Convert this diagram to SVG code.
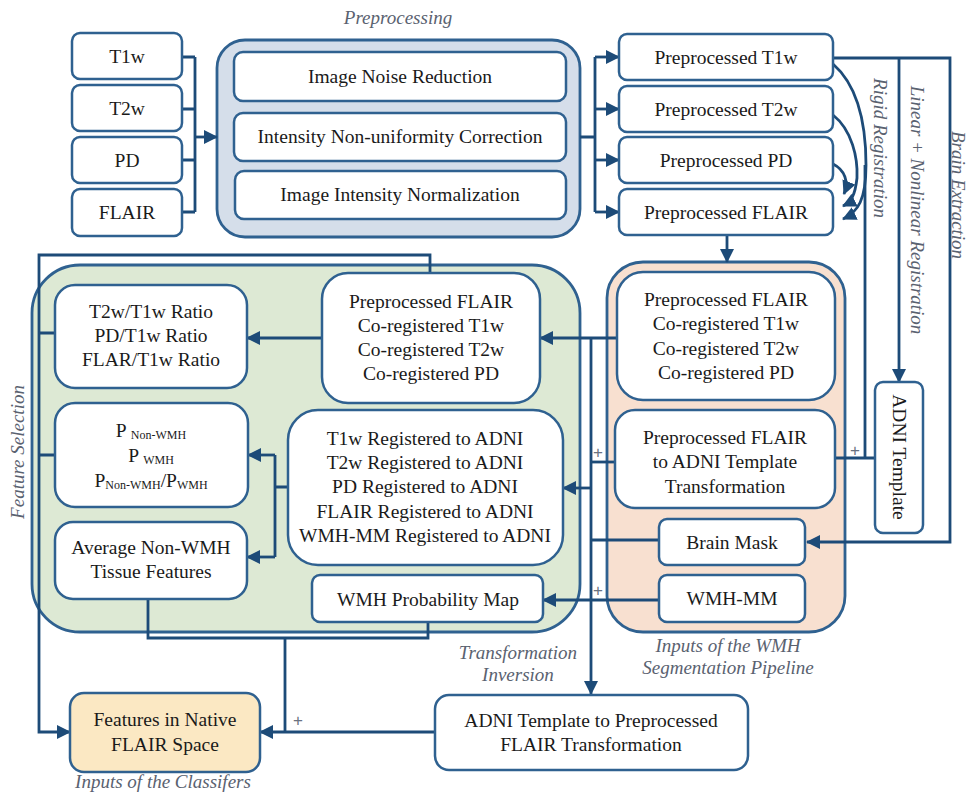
<svg xmlns="http://www.w3.org/2000/svg" width="970" height="798" viewBox="0 0 970 798">
<defs>
<marker id="arr" markerUnits="userSpaceOnUse" markerWidth="14" markerHeight="14" refX="13" refY="7" orient="auto">
<path d="M0,0 L14,7 L0,14 z" fill="#1d4b78"/>
</marker>
<style>
.box{fill:#fff;stroke:#2f6190;stroke-width:2.5}
.cont{stroke:#2f6190;stroke-width:2.8}
.ln{fill:none;stroke:#1d4b78;stroke-width:2.8}
.t{font-family:"Liberation Serif",serif;font-size:19.5px;fill:#1a1a1a;text-anchor:middle}
.lab{font-family:"Liberation Serif",serif;font-size:19px;font-style:italic;fill:#5a6270;text-anchor:middle}
.plus{font-family:"Liberation Sans",sans-serif;font-size:17px;fill:#6a7280;text-anchor:middle}
.sub{font-size:12px}
</style>
</defs>
<rect width="970" height="798" fill="#fff"/>

<!-- containers -->
<g id="preprocessing">
<rect class="cont" x="217" y="40" width="363" height="197" rx="28" fill="#d5deea"/>
<text class="lab" x="398" y="24">Preprocessing</text>
</g>
<g id="feature-area">
<rect class="cont" x="32" y="265" width="548" height="367" rx="48" fill="#dde9d4"/>
</g>
<g id="wmh-inputs">
<rect class="cont" x="607" y="262" width="238" height="370" rx="36" fill="#f8e0d0"/>
<text class="lab" x="728" y="652">Inputs of the WMH</text>
<text class="lab" x="728" y="674">Segmentation Pipeline</text>
</g>

<!-- connectors -->
<g id="connectors">
<path class="ln" d="M182,57 H195 M182,109 H195 M182,160 H195 M182,212 H195 M195,57 V212"/>
<path class="ln" d="M195,137 H217" marker-end="url(#arr)"/>
<path class="ln" d="M580,137 H595 M595,57 V212"/>
<path class="ln" d="M595,57 H619" marker-end="url(#arr)"/>
<path class="ln" d="M595,109 H619" marker-end="url(#arr)"/>
<path class="ln" d="M595,160 H619" marker-end="url(#arr)"/>
<path class="ln" d="M595,212 H619" marker-end="url(#arr)"/>
<path class="ln" d="M833,64 C856,84 866,120 866,165 C866,200 858,212 843,219" marker-end="url(#arr)"/>
<path class="ln" d="M833,115 C852,130 858,158 857,178 C855,196 851,202 843,206" marker-end="url(#arr)"/>
<path class="ln" d="M833,164 C845,170 849,182 844,194" marker-end="url(#arr)"/>
<path class="ln" d="M865,165 V458 M835,458 H875"/>
<path class="ln" d="M833,58 H950 V542 H807" marker-end="url(#arr)"/>
<path class="ln" d="M899,58 V382" marker-end="url(#arr)"/>
<path class="ln" d="M727,235 V262" marker-end="url(#arr)"/>
<path class="ln" d="M617,338 H540" marker-end="url(#arr)"/>
<path class="ln" d="M591,338 V694" marker-end="url(#arr)"/>
<path class="ln" d="M615,462 H591"/>
<path class="ln" d="M591,488 H563" marker-end="url(#arr)"/>
<path class="ln" d="M659,540 H591"/>
<path class="ln" d="M659,600 H543" marker-end="url(#arr)"/>
<path class="ln" d="M322,338 H247" marker-end="url(#arr)"/>
<path class="ln" d="M288,487 H275 M275,455 V557"/>
<path class="ln" d="M275,455 H248" marker-end="url(#arr)"/>
<path class="ln" d="M275,557 H247" marker-end="url(#arr)"/>
<path class="ln" d="M430,273 V255 H39 V732 H70" marker-end="url(#arr)"/>
<path class="ln" d="M39,333 H55 M39,455 H55"/>
<path class="ln" d="M148,599 V638 H428 V622 M285,638 V732"/>
<path class="ln" d="M435,732 H260" marker-end="url(#arr)"/>
<text class="plus" x="598" y="458">+</text>
<text class="plus" x="598" y="596">+</text>
<text class="plus" x="855" y="456">+</text>
<text class="plus" x="298" y="726">+</text>
</g>

<!-- labels -->
<text class="lab" transform="translate(874,148) rotate(90)">Rigid Registration</text>
<text class="lab" transform="translate(911,210) rotate(90)">Linear + Nonlinear Registration</text>
<text class="lab" transform="translate(952,195) rotate(90)">Brain Extraction</text>
<text class="lab" transform="translate(24,452) rotate(-90)">Feature Selection</text>
<text class="lab" x="518" y="659">Transformation</text>
<text class="lab" x="518" y="681">Inversion</text>
<text class="lab" x="163" y="788">Inputs of the Classifers</text>

<!-- input nodes -->
<g id="t1w"><rect class="box" x="72" y="33" width="110" height="46" rx="8"/><text class="t" x="127" y="63">T1w</text></g>
<g id="t2w"><rect class="box" x="72" y="85" width="110" height="46" rx="8"/><text class="t" x="127" y="115">T2w</text></g>
<g id="pd"><rect class="box" x="72" y="137" width="110" height="46" rx="8"/><text class="t" x="127" y="167">PD</text></g>
<g id="flair"><rect class="box" x="72" y="189" width="110" height="47" rx="8"/><text class="t" x="127" y="219">FLAIR</text></g>

<!-- preprocessing steps -->
<g id="noise"><rect class="box" x="234" y="52" width="332" height="49" rx="9"/><text class="t" x="400" y="83">Image Noise Reduction</text></g>
<g id="nonuniform"><rect class="box" x="234" y="113" width="332" height="48" rx="9"/><text class="t" x="400" y="143">Intensity Non-uniformity Correction</text></g>
<g id="normalization"><rect class="box" x="235" y="171" width="331" height="48" rx="9"/><text class="t" x="400" y="201">Image Intensity Normalization</text></g>

<!-- preprocessed -->
<g id="pp-t1w"><rect class="box" x="619" y="34" width="214" height="46" rx="8"/><text class="t" x="726" y="64">Preprocessed T1w</text></g>
<g id="pp-t2w"><rect class="box" x="619" y="86" width="214" height="46" rx="8"/><text class="t" x="726" y="116">Preprocessed T2w</text></g>
<g id="pp-pd"><rect class="box" x="619" y="137" width="214" height="46" rx="8"/><text class="t" x="726" y="167">Preprocessed PD</text></g>
<g id="pp-flair"><rect class="box" x="619" y="189" width="214" height="46" rx="8"/><text class="t" x="726" y="219">Preprocessed FLAIR</text></g>

<!-- orange inner -->
<g id="wmh-coreg"><rect class="box" x="617" y="272" width="218" height="128" rx="26"/>
<text class="t" x="726" y="306">Preprocessed FLAIR</text><text class="t" x="726" y="330">Co-registered T1w</text><text class="t" x="726" y="355">Co-registered T2w</text><text class="t" x="726" y="379">Co-registered PD</text></g>
<g id="flair-to-adni"><rect class="box" x="615" y="410" width="220" height="98" rx="20"/>
<text class="t" x="725" y="444">Preprocessed FLAIR</text><text class="t" x="725" y="468">to ADNI Template</text><text class="t" x="725" y="493">Transformation</text></g>
<g id="brain-mask"><rect class="box" x="659" y="519" width="146" height="46" rx="8"/><text class="t" x="732" y="549">Brain Mask</text></g>
<g id="wmh-mm"><rect class="box" x="659" y="575" width="146" height="47" rx="8"/><text class="t" x="732" y="605">WMH-MM</text></g>
<g id="adni-template"><rect class="box" x="875" y="382" width="48" height="151" rx="8"/><text class="t" transform="translate(893,457) rotate(90)">ADNI Template</text></g>

<!-- green inner -->
<g id="ratios"><rect class="box" x="55" y="285" width="192" height="103" rx="20"/>
<text class="t" x="151" y="318">T2w/T1w Ratio</text><text class="t" x="151" y="342">PD/T1w Ratio</text><text class="t" x="151" y="366">FLAR/T1w Ratio</text></g>
<g id="probs"><rect class="box" x="55" y="403" width="193" height="104" rx="20"/>
<text class="t" x="151" y="437">P <tspan class="sub" dy="2">Non-WMH</tspan></text>
<text class="t" x="151" y="462">P <tspan class="sub" dy="2">WMH</tspan></text>
<text class="t" x="151" y="487">P<tspan class="sub" dy="2">Non-WMH</tspan><tspan dy="-2">/P</tspan><tspan class="sub" dy="2">WMH</tspan></text></g>
<g id="avg-nonwmh"><rect class="box" x="55" y="522" width="192" height="77" rx="18"/>
<text class="t" x="151" y="554">Average Non-WMH</text><text class="t" x="151" y="578">Tissue Features</text></g>
<g id="green-coreg"><rect class="box" x="322" y="273" width="218" height="130" rx="26"/>
<text class="t" x="431" y="308">Preprocessed FLAIR</text><text class="t" x="431" y="332">Co-registered T1w</text><text class="t" x="431" y="356">Co-registered T2w</text><text class="t" x="431" y="380">Co-registered PD</text></g>
<g id="registered-adni"><rect class="box" x="288" y="410" width="275" height="155" rx="30"/>
<text class="t" x="425" y="445">T1w Registered to ADNI</text><text class="t" x="425" y="469">T2w Registered to ADNI</text><text class="t" x="425" y="493">PD Registered to ADNI</text><text class="t" x="425" y="518">FLAIR Registered to ADNI</text><text class="t" x="425" y="542">WMH-MM Registered to ADNI</text></g>
<g id="wmh-prob"><rect class="box" x="312" y="575" width="231" height="47" rx="8"/><text class="t" x="428" y="606">WMH Probability Map</text></g>

<!-- bottom -->
<g id="features-native"><rect class="box" x="70" y="693" width="190" height="79" rx="14" style="fill:#fbe8c3"/>
<text class="t" x="165" y="726">Features in Native</text><text class="t" x="165" y="751">FLAIR Space</text></g>
<g id="adni-to-flair"><rect class="box" x="435" y="695" width="313" height="75" rx="14"/>
<text class="t" x="591" y="727">ADNI Template to Preprocessed</text><text class="t" x="591" y="751">FLAIR Transformation</text></g>
</svg>
